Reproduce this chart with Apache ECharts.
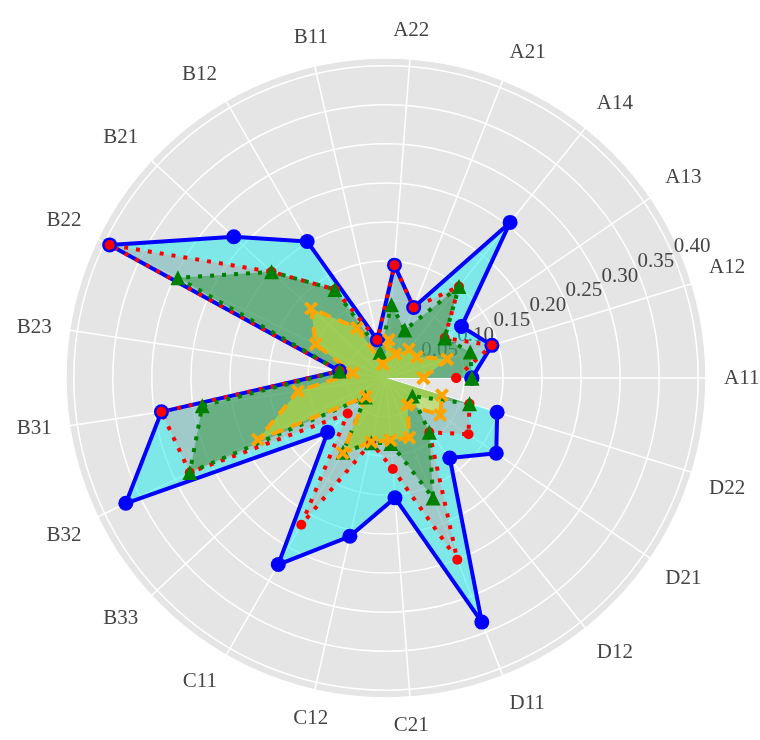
<!DOCTYPE html>
<html>
<head>
<meta charset="utf-8">
<script src="https://cdn.jsdelivr.net/npm/echarts@6/dist/echarts.min.js"></script>
<style>
  html, body { margin: 0; padding: 0; background: #fff; }
  #chart { width: 760px; height: 740px; }
</style>
</head>
<body>
<div id="chart"></div>
<script>
// indicator names, counter-clockwise from the right
const categories = ['A11', 'A12', 'A13', 'A14', 'A21', 'A22', 'B11', 'B12', 'B21', 'B22', 'B23',
  'B31', 'B32', 'B33', 'C11', 'C12', 'C21', 'D11', 'D12', 'D21', 'D22'];

// weights
const blueValues = [0.110, 0.142, 0.117, 0.255, 0.097, 0.145, 0.050, 0.202, 0.266, 0.393, 0.060,
  0.291, 0.370, 0.102, 0.276, 0.208, 0.154, 0.336, 0.131, 0.171, 0.149];
const redValues = [0.090, 0.142, 0.091, 0.150, 0.097, 0.145, 0.050, 0.131, 0.200, 0.393, 0.060,
  0.291, 0.279, 0.067, 0.217, 0.085, 0.117, 0.250, 0.089, 0.128, 0.112];
const greenValues = [0.110, 0.113, 0.091, 0.150, 0.066, 0.094, 0.034, 0.131, 0.200, 0.296, 0.060,
  0.238, 0.279, 0.036, 0.110, 0.085, 0.084, 0.165, 0.089, 0.041, 0.112];
const orangeValues = [0.048, 0.082, 0.048, 0.047, 0.033, 0.049, 0.018, 0.074, 0.131, 0.100, 0.043,
  0.114, 0.182, 0.035, 0.111, 0.084, 0.080, 0.082, 0.044, 0.084, 0.075];

const radialTicks = ['0.05', '0.10', '0.15', '0.20', '0.25', '0.30', '0.35', '0.40'];

const serif = 'Liberation Serif';
const xMark = 'path://M2,0L5,3L8,0L10,2L7,5L10,8L8,10L5,7L2,10L0,8L3,5L0,2Z';
const CENTER = [386, 378];
const RADIUS = 320;

// closed loop: [radius, angle] pairs, first point repeated at the end
function loop(values) {
  const pts = categories.map((c, i) => [values[i], c]);
  pts.push([values[0], categories[0]]);
  return pts;
}

function fillSeries(values, color) {
  return {
    type: 'line', coordinateSystem: 'polar', polarIndex: 0,
    data: loop(values), symbol: 'none', clip: false, z: 2,
    lineStyle: { width: 0 },
    areaStyle: { color: color, opacity: 1 },
    silent: true
  };
}

function lineSeries(values, color, dash, width, symbol, size) {
  return {
    type: 'line', coordinateSystem: 'polar', polarIndex: 0,
    data: loop(values), clip: false, z: 3,
    symbol: symbol, symbolSize: size, showSymbol: true,
    itemStyle: { color: color, borderWidth: 0 },
    lineStyle: { color: color, width: width, type: dash }
  };
}

let myChart = echarts.init(document.getElementById('chart'));
let option = {
  backgroundColor: '#fff',
  animation: false,
  textStyle: { fontFamily: serif },
  // 0: data + spokes, 1: rings + radial tick labels, 2: grey disc
  polar: [
    { center: CENTER, radius: RADIUS },
    { center: CENTER, radius: RADIUS },
    { center: CENTER, radius: RADIUS }
  ],
  angleAxis: [
    {
      polarIndex: 0, type: 'category', data: categories, boundaryGap: false,
      startAngle: 0, clockwise: false, z: 1,
      axisLine: { show: false },
      axisTick: { show: false },
      axisLabel: { interval: 0, margin: 18, fontFamily: serif, fontSize: 21, color: '#444' },
      splitLine: { show: true, interval: 0, lineStyle: { color: '#fff', width: 1.5 } }
    },
    { polarIndex: 1, type: 'value', min: 0, max: 360, startAngle: 22.5, show: false },
    { polarIndex: 2, type: 'value', min: 0, max: 360, show: false }
  ],
  radiusAxis: [
    {
      polarIndex: 0, type: 'value', min: 0, max: 0.41, interval: 0.05, z: 1,
      axisLine: { show: false },
      axisTick: { show: false },
      axisLabel: { show: false },
      splitLine: { show: false }
    },
    {
      polarIndex: 1, type: 'value', min: 0, max: 0.41, interval: 0.05, z: 1,
      axisLine: { show: false },
      axisTick: { show: false },
      splitLine: { show: true, lineStyle: { color: '#fff', width: 1.5 } },
      axisLabel: {
        show: true, margin: 2, align: 'left', verticalAlign: 'bottom',
        fontFamily: serif, fontSize: 21, color: '#444',
        formatter: v => radialTicks.includes(v.toFixed(2)) ? v.toFixed(2) : ''
      }
    },
    {
      polarIndex: 2, type: 'value', min: 0, max: 0.41, interval: 0.05, z: 0,
      axisLine: { show: false },
      axisTick: { show: false },
      axisLabel: { show: false },
      splitLine: { show: false },
      splitArea: { show: true, areaStyle: { color: ['#e5e5e5'] } }
    }
  ],
  series: [
    fillSeries(blueValues, 'rgba(0,235,235,0.45)'),
    fillSeries(redValues, 'rgba(240,128,128,0.3)'),
    fillSeries(greenValues, 'rgba(0,128,0,0.35)'),
    fillSeries(orangeValues, 'rgba(255,255,0,0.35)'),
    lineSeries(blueValues, '#0000ff', 'solid', 4, 'circle', 15),
    lineSeries(redValues, '#ff0000', [4, 8], 4, 'circle', 10),
    lineSeries(greenValues, '#008000', [4, 8], 4, 'triangle', 15),
    lineSeries(orangeValues, '#ffa500', [12, 8], 4, xMark, 14)
  ]
};
myChart.setOption(option);
</script>
</body>
</html>
